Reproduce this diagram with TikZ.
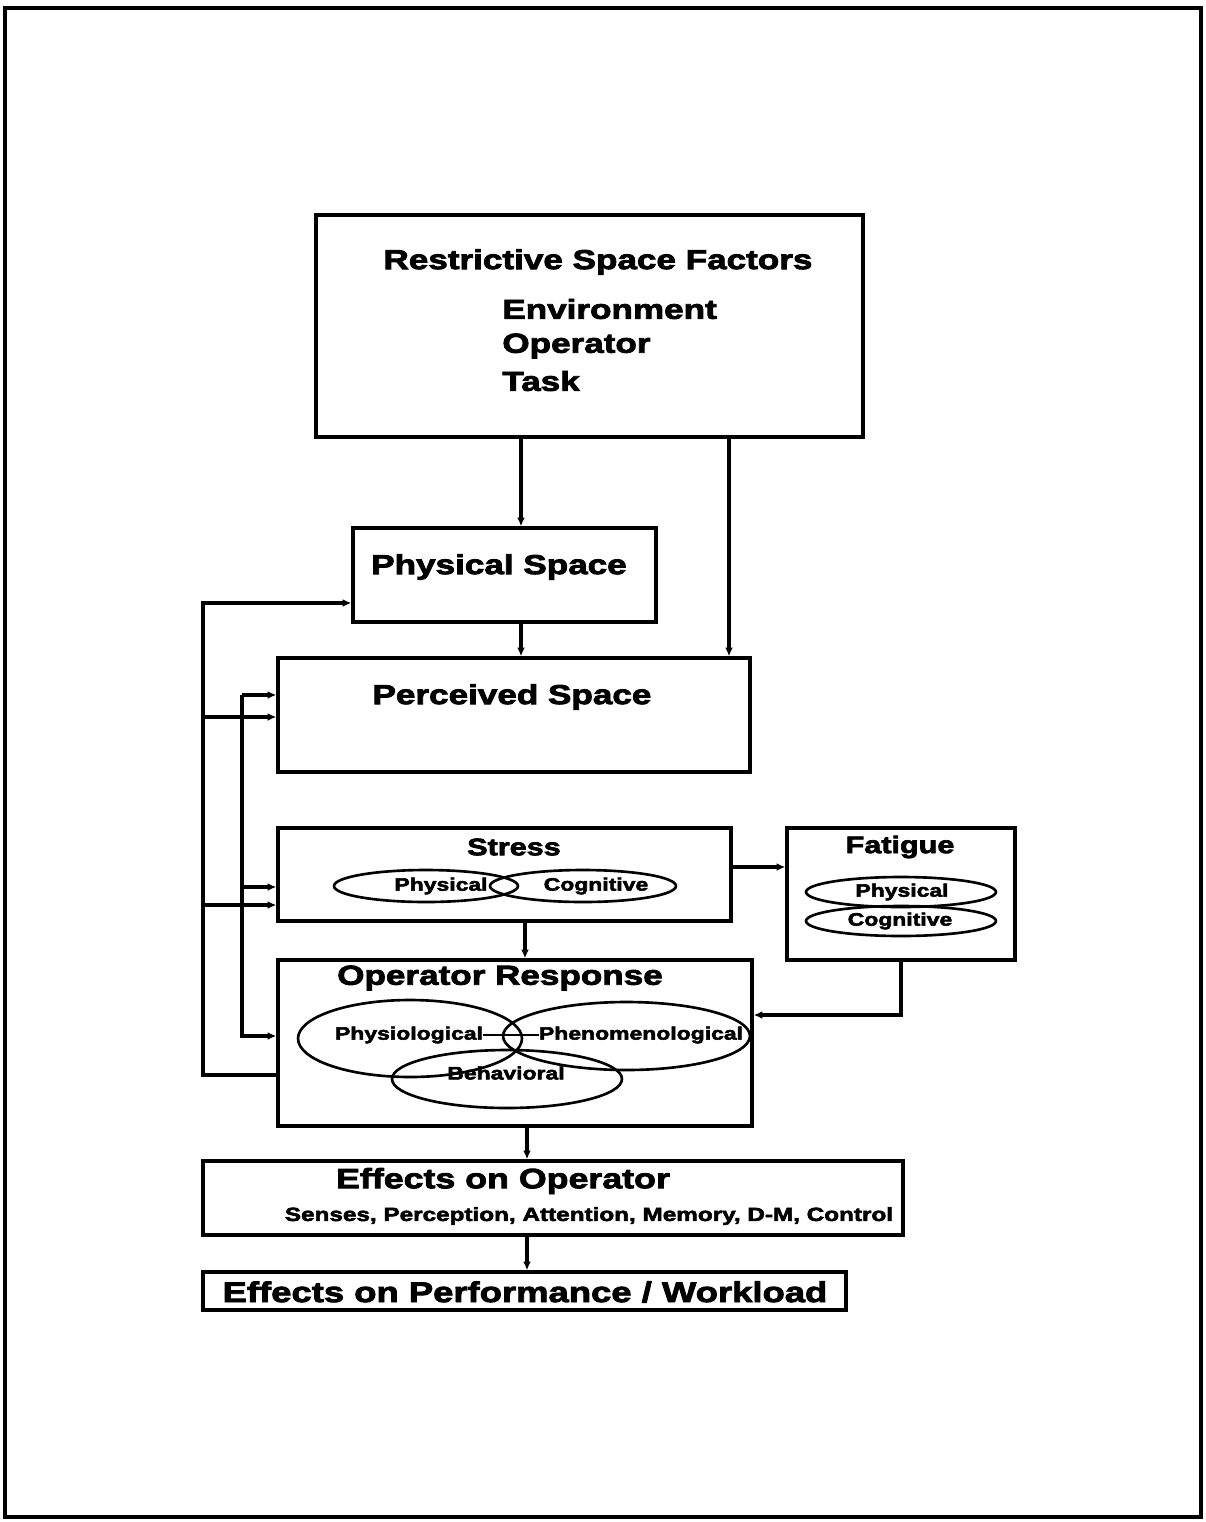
\documentclass[tikz,border=0pt]{standalone}
\usepackage{fontspec}
\newfontfamily\heavy{Liberation Sans Bold}[FakeStretch=1.28,FakeBold=3]
\usetikzlibrary{shapes.geometric,arrows.meta,positioning}

\begin{document}
\begin{tikzpicture}[x=0.02cm, y=-0.02cm,
	box/.style={draw, line width=1.9pt, inner sep=0pt},
	oval/.style={draw, ellipse, line width=1.5pt, inner sep=0pt},
	arr/.style={line width=1.9pt, -{Latex[length=5pt,width=4.5pt]}},
	big/.style={font=\heavy\fontsize{15.6}{18}\selectfont, inner sep=0pt},
	mid/.style={font=\heavy\fontsize{13.6}{16}\selectfont, inner sep=0pt},
	small/.style={font=\heavy\fontsize{10.2}{12}\selectfont, inner sep=0pt} ]
	\useasboundingbox (0,0) rectangle (1206,1522);
	\draw[line width=2.6pt] (5,8) rectangle (1201,1517);

	% boxes
	\node[box, minimum width=10.94cm, minimum height=4.44cm] (rsf) at (589.5,326) {};
	\node[box, minimum width=6.06cm, minimum height=1.88cm] (phys) at (504.5,575) {};
	\node[box, minimum width=9.44cm, minimum height=2.28cm] (perc) at (514,715) {};
	\node[box, minimum width=9.06cm, minimum height=1.86cm] (stress) at (504.5,874.5) {};
	\node[box, minimum width=4.56cm, minimum height=2.64cm] (fatigue) at (901,894) {};
	\node[box, minimum width=9.48cm, minimum height=3.32cm] (opresp) at (515,1043) {};
	\node[box, minimum width=14cm, minimum height=1.48cm] (effop) at (553,1198) {};
	\node[box, minimum width=12.86cm, minimum height=0.76cm] (effperf) at (524.5,1291) {};

	% titles
	\node[big] (trsf) at (598,262) {Restrictive Space Factors};
	\node[big, anchor=west] (tenv) at (502,309) {Environment};
	\node[big, anchor=west] (topr) at (502,346) {Operator};
	\node[big, anchor=west] (ttask) at (502,381) {Task};
	\node[big] (tphys) at (499,567) {Physical Space};
	\node[big] (tperc) at (512,697) {Perceived Space};
	\node[mid] (tstress) at (514,847) {Stress};
	\node[mid] (tfat) at (900,847) {Fatigue};
	\node[big] (tresp) at (500,978) {Operator Response};
	\node[big, font=\heavy\fontsize{15.9}{18}\selectfont] (teffop) at (503,1181) {Effects on Operator};
	\node[small, font=\heavy\fontsize{10.8}{12}\selectfont] (tsub) at (589,1216) {Senses, Perception, Attention, Memory, D-M, Control};
	\node[big, font=\heavy\fontsize{16.2}{18}\selectfont] (teffperf) at (525,1292) {Effects on Performance / Workload};

	% ovals
	\node[oval, minimum width=3.68cm, minimum height=0.64cm] (sp) at (426,886) {};
	\node[oval, minimum width=3.72cm, minimum height=0.64cm] (sc) at (583,886) {};
	\node[oval, minimum width=3.8cm, minimum height=0.6cm] (fp) at (901,892) {};
	\node[oval, minimum width=3.8cm, minimum height=0.6cm] (fc) at (901,921) {};
	\node[oval, minimum width=4.48cm, minimum height=1.54cm] (rphy) at (410,1038.5) {};
	\node[oval, minimum width=4.94cm, minimum height=1.36cm] (rphe) at (626.5,1036) {};
	\node[oval, minimum width=4.6cm, minimum height=1.16cm] (rbeh) at (507,1079) {};
	\begin{scope}[every node/.style={small}]
		\node (lsp) at (441,886) {Physical};
		\node (lsc) at (596,886) {Cognitive};
		\node (lfp) at (902,892) {Physical};
		\node (lfc) at (900,921) {Cognitive};
		\node (lphy) at (409,1035) {Physiological};
		\node (lphe) at (641,1035) {Phenomenological};
		\node (lbeh) at (506,1073) {Behavioral};
	\end{scope}
	\draw[line width=1.5pt] (lphy) -- (lphe);

	% main flow
	\coordinate (xa) at (521,0);
	\coordinate (xb) at (729,0);
	\coordinate (xc) at (525,0);
	\coordinate (xe) at (527,0);
	\coordinate (yf) at (0,867);
	\coordinate (yd) at (0,1015);
	\draw[arr] (rsf.south -| xa) -- (phys.north -| xa);
	\draw[arr] (rsf.south -| xb) -- (perc.north -| xb);
	\draw[arr] (phys.south -| xa) -- (perc.north -| xa);
	\draw[arr] (stress.east |- yf) -- (fatigue.west |- yf);
	\draw[arr] (stress.south -| xc) -- (opresp.north -| xc);
	\draw[arr] (fatigue.south) |- (opresp.east |- yd);
	\draw[arr] (opresp.south -| xe) -- (effop.north -| xe);
	\draw[arr] (effop.south -| xe) -- (effperf.north -| xe);

	% feedback loops
	\coordinate (fo) at (203,1075);
	\coordinate (ft) at (203,603);
	\draw[arr] (opresp.west |- fo) -- (fo) -- (ft) -- (phys.west |- ft);
	\coordinate (fa) at (242,695);
	\coordinate (fb) at (242,1036);
	\draw[arr] (fa) -- (fb) -- (opresp.west |- fb);
	\draw[arr] (fa) -- (perc.west |- fa);
	\coordinate (f1) at (203,717);
	\coordinate (f2) at (203,905);
	\coordinate (f3) at (242,887);
	\foreach \c/\t in {f1/perc, f2/stress, f3/stress}
		\draw[arr] (\c) -- (\t.west |- \c);
\end{tikzpicture}
\end{document}
